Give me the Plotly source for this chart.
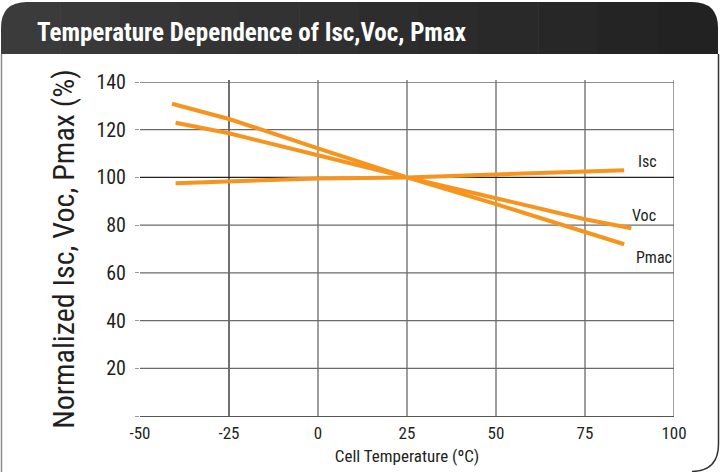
import plotly.graph_objects as go

# ---- data ----
title_text = "Temperature Dependence of Isc,Voc, Pmax"
x_title = "Cell Temperature (ºC)"
y_title = "Normalized Isc, Voc, Pmax (%)"

x_ticks = [-50, -25, 0, 25, 50, 75, 100]
y_ticks = [20, 40, 60, 80, 100, 120, 140]

isc_temp = [-40, -25, 0, 25, 50, 75, 86]
isc_vals = [97.6, 98.5, 99.6, 100, 101.2, 102.4, 103]

voc_temp = [-40, -25, 0, 25, 50, 75, 88]
voc_vals = [122.9, 118.5, 109.3, 100, 91.3, 82.5, 78.7]

pmac_temp = [-41, -25, 0, 25, 50, 75, 86]
pmac_vals = [130.9, 124.5, 112.2, 100, 88.8, 77.3, 72.0]

# ---- layout geometry ----
W, H = 720, 472
L, R, T, B = 140, 46, 82, 56
PW, PH = W - L - R, H - T - B

def px(x):
    return (x - L) / PW

def py(y):
    return 1 - (y - T) / PH

FONT = "Roboto Condensed, DejaVu Sans Condensed, sans-serif"
ORANGE = "#F7941D"
TXT = "#231f20"

fig = go.Figure()
for name, xs, ys in [("Isc", isc_temp, isc_vals), ("Voc", voc_temp, voc_vals), ("Pmac", pmac_temp, pmac_vals)]:
    fig.add_trace(go.Scatter(x=xs, y=ys, mode="lines", name=name,
                             line=dict(color=ORANGE, width=4), showlegend=False,
                             hoverinfo="skip"))

shapes = []
for v in x_ticks[1:]:
    shapes.append(dict(type="line", xref="x", yref="paper", x0=v, x1=v, y0=0, y1=1.006,
                       line=dict(color="#222" if v == -25 else "#6a6a6a", width=1.3), layer="below"))
for v in y_ticks:
    shapes.append(dict(type="line", xref="paper", yref="y", x0=0, x1=1, y0=v, y1=v,
                       line=dict(color="#222" if v == 100 else "#6a6a6a", width=1.3), layer="below"))

def hpath(x0, x1, rl, rr):
    top, bot, r = 2, 54, 26
    s = f"M {px(x0)} {py(bot)} "
    if rl:
        s += f"L {px(x0)} {py(top + r)} Q {px(x0)} {py(top)} {px(x0 + r)} {py(top)} "
    else:
        s += f"L {px(x0)} {py(top)} "
    if rr:
        s += f"L {px(x1 - r)} {py(top)} Q {px(x1)} {py(top)} {px(x1)} {py(top + r)} "
    else:
        s += f"L {px(x1)} {py(top)} "
    s += f"L {px(x1)} {py(bot)} Z"
    return s

n = 12
c0, c1 = (0x3c, 0x3c, 0x3c), (0x22, 0x21, 0x22)
edges = [1 + i * (718 - 1) / n for i in range(n + 1)]
for i in range(n):
    t = (i + 0.5) / n
    col = "rgb(%d,%d,%d)" % tuple(round(a + (b - a) * t) for a, b in zip(c0, c1))
    x0 = edges[i] - (0.6 if i > 0 else 0)
    shapes.append(dict(type="path", xref="paper", yref="paper",
                       path=hpath(x0, edges[i + 1], i == 0, i == n - 1),
                       fillcolor=col, line=dict(width=0), layer="below"))

shapes.append(dict(type="path", xref="paper", yref="paper",
                   path=f"M {px(1.5)} {py(54)} L {px(1.5)} {py(472)}",
                   line=dict(color="#8a8a8a", width=1.5)))
shapes.append(dict(type="path", xref="paper", yref="paper",
                   path=f"M {px(718.5)} {py(54)} L {px(718.5)} {py(444)} Q {px(718.5)} {py(471)} {px(692)} {py(471.5)}",
                   line=dict(color="#333", width=1.5)))

annotations = [
    dict(text=title_text, xref="paper", yref="paper", x=px(35), y=py(32),
         xanchor="left", yanchor="middle", showarrow=False,
         font=dict(family=FONT, size=25, color="white", weight="bold")),
]
label_offsets = {"Isc": (23, 9), "Voc": (13, 13), "Pmac": (30, -13)}
for name, xs, ys in [("Isc", isc_temp, isc_vals), ("Voc", voc_temp, voc_vals), ("Pmac", pmac_temp, pmac_vals)]:
    dx, dy = label_offsets[name]
    annotations.append(dict(text=name, x=xs[-1], y=ys[-1], xref="x", yref="y",
                            xshift=dx, yshift=dy, showarrow=False,
                            font=dict(family=FONT, size=16, color=TXT)))

fig.update_layout(
    width=W, height=H,
    margin=dict(l=L, r=R, t=T, b=B, pad=0),
    paper_bgcolor="white", plot_bgcolor="white",
    shapes=shapes, annotations=annotations,
    xaxis=dict(range=[-50, 100], tickvals=x_ticks, ticktext=[str(v) for v in x_ticks],
               automargin=False,
               showgrid=False, zeroline=False, showline=True, linecolor="#555", linewidth=1.3,
               ticks="", ticklabelstandoff=1,
               tickfont=dict(family=FONT, size=17, color=TXT),
               title=dict(text=x_title, font=dict(family=FONT, size=17, color=TXT), standoff=8)),
    yaxis=dict(range=[0, 140], tickvals=[0] + y_ticks, ticktext=[""] + [str(v) for v in y_ticks],
               automargin=False,
               showgrid=False, zeroline=False, showline=False,
               ticks="outside", ticklen=4, tickcolor="#999", tickwidth=1,
               ticklabelstandoff=5,
               tickfont=dict(family=FONT, size=20, color=TXT),
               title=dict(text=y_title, font=dict(family=FONT, size=30, color=TXT), standoff=12)),
)

fig.write_html("out.html", config={"displayModeBar": False},
               post_script="document.body.style.margin='0';")
